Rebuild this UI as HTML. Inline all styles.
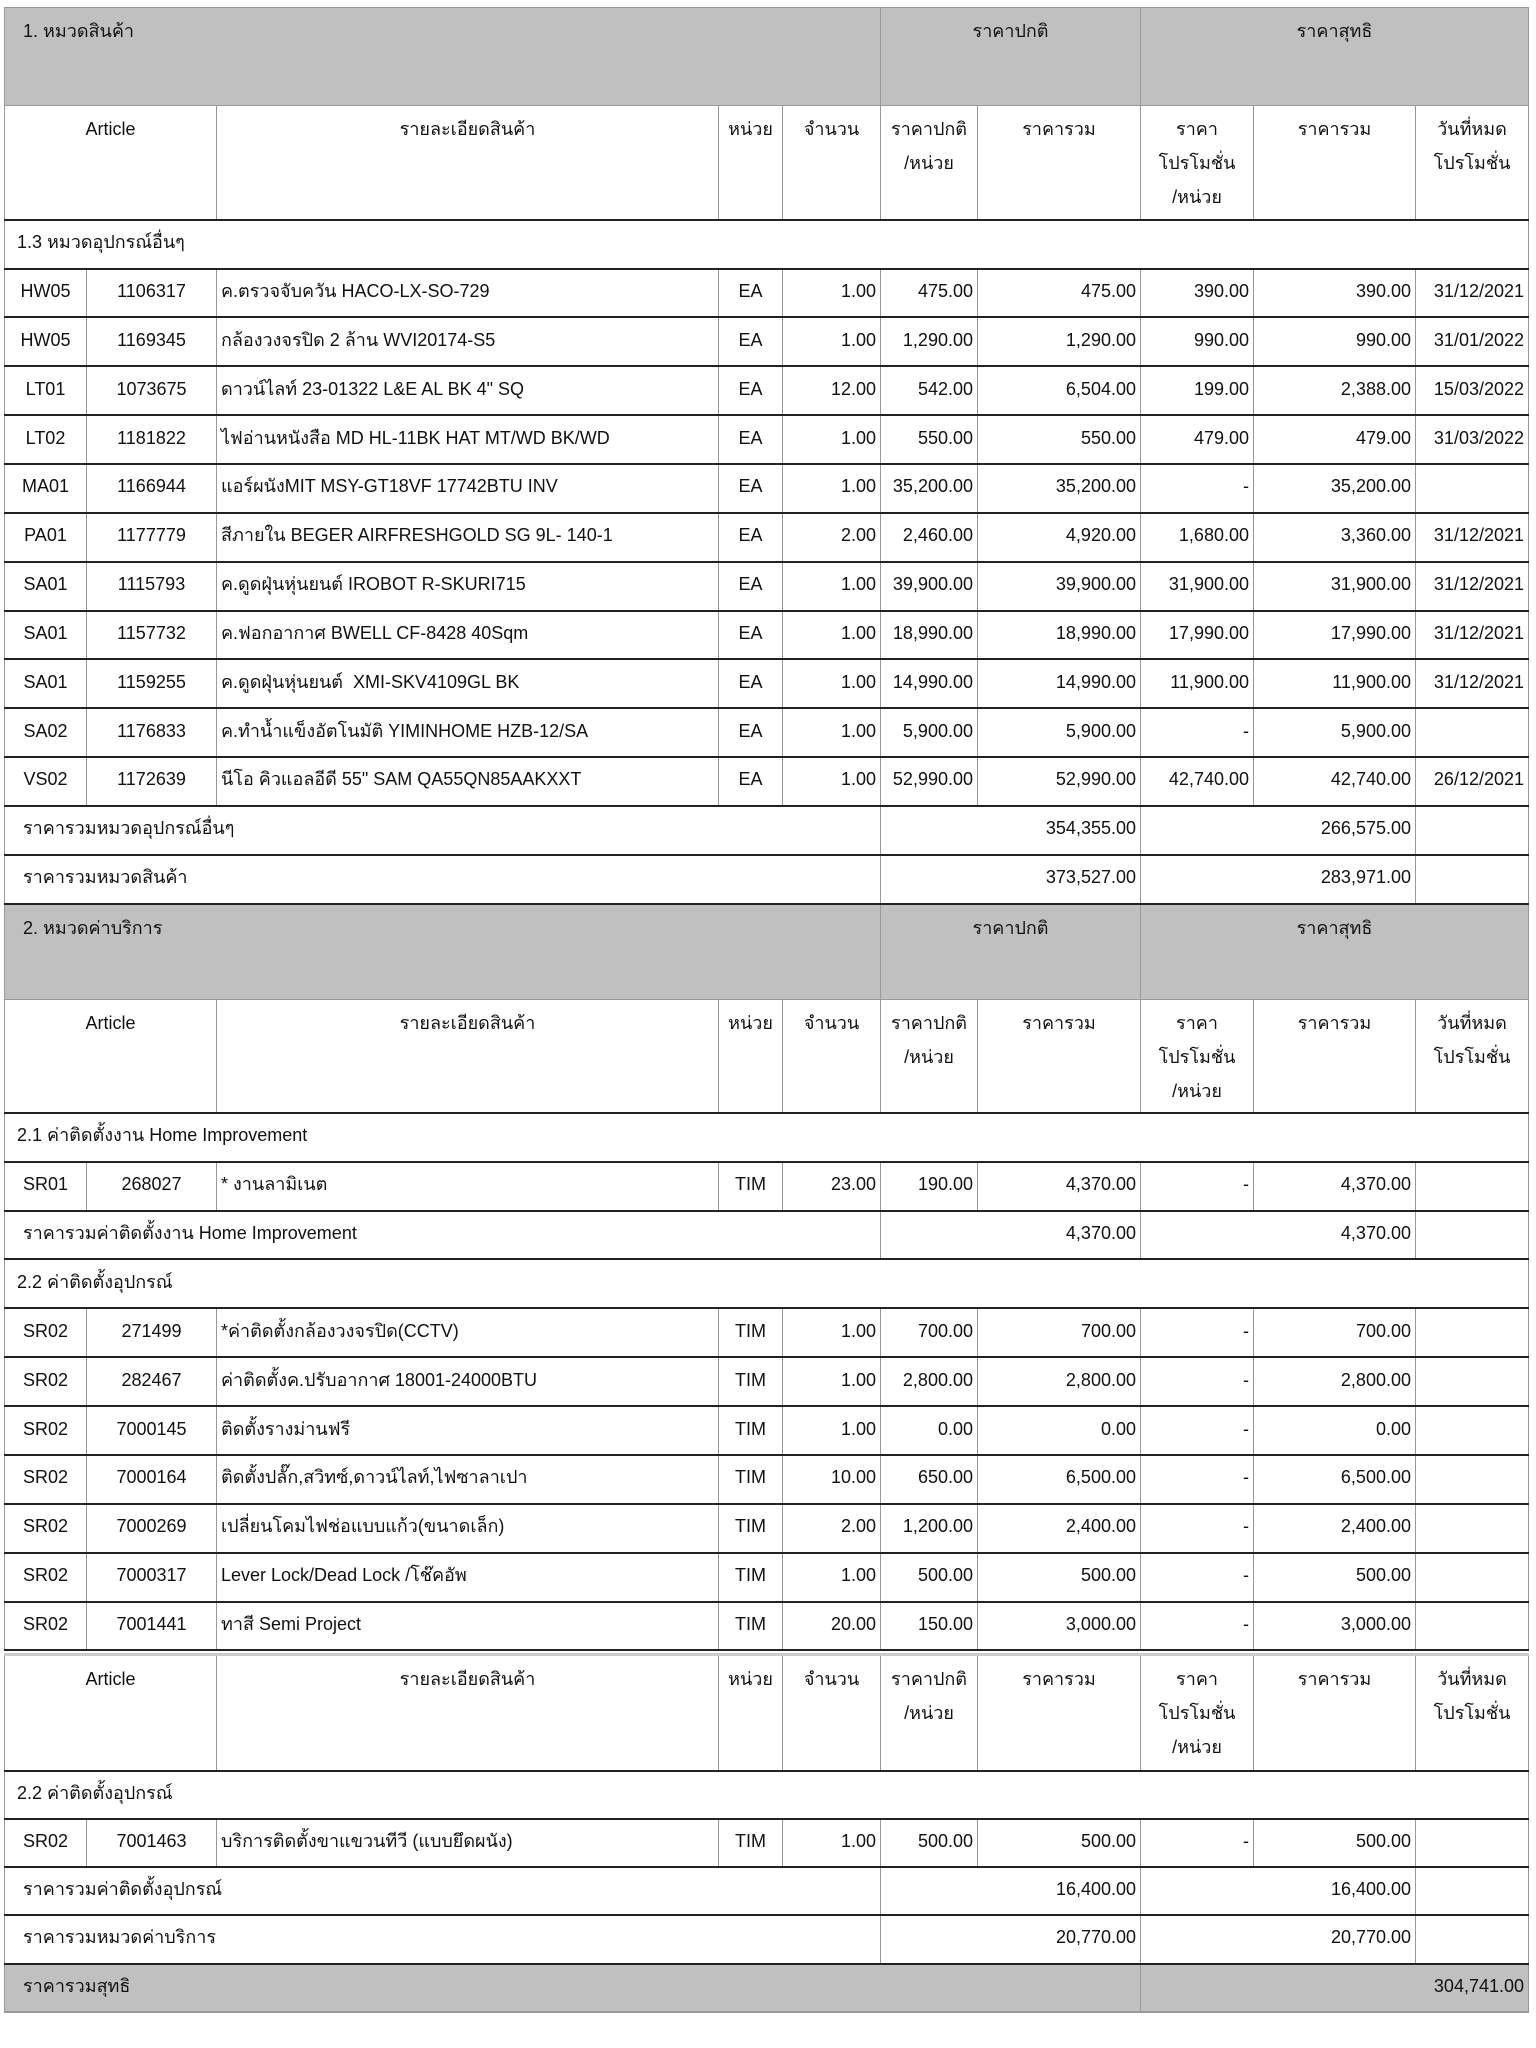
<!DOCTYPE html>
<html><head><meta charset="utf-8">
<style>
html,body{margin:0;padding:0;background:#fff;width:1536px;height:2048px;overflow:hidden}
body{font-family:"Liberation Sans","Noto Sans CJK SC",sans-serif;font-size:18px;color:#111}
table{position:absolute;left:4px;border-collapse:collapse;table-layout:fixed;width:1524px}
td{border-left:1px solid #999;border-right:1px solid #999;border-top:2px solid #222;border-bottom:2px solid #222;padding:0 4px;white-space:nowrap;overflow:hidden;line-height:34px}
.g td{background:#c0c0c0;vertical-align:top;padding-top:6px;border-top:1px solid #999;border-bottom:1px solid #999}
.h td{vertical-align:top;padding-top:6px;text-align:center;border-top:1px solid #999}
.c{text-align:center}.r{text-align:right}
.d td{height:42.2px;vertical-align:middle;padding-bottom:4px;line-height:30px}
.s td{height:42.5px;padding-left:12px;vertical-align:middle;padding-bottom:4px;line-height:30px}
.t1 .d td{height:42.85px}
.t1 .s td{height:43.1px}
.t td.l{padding-left:18px}
</style></head><body>
<table class="t1" style="top:7px">
<colgroup><col style="width:82px"><col style="width:130px"><col style="width:502px"><col style="width:64px"><col style="width:98px"><col style="width:97px"><col style="width:163px"><col style="width:113px"><col style="width:162px"><col style="width:113px"></colgroup>
<tr class="g" style="height:98px"><td colspan="5" style="padding-left:18px">1. หมวดสินค้า</td><td colspan="2" class="c">ราคาปกติ</td><td colspan="3" class="c">ราคาสุทธิ</td></tr>
<tr class="h" style="height:114px"><td colspan="2">Article</td><td>รายละเอียดสินค้า</td><td>หน่วย</td><td>จำนวน</td><td>ราคาปกติ<br>/หน่วย</td><td>ราคารวม</td><td>ราคา<br>โปรโมชั่น<br>/หน่วย</td><td>ราคารวม</td><td class="r">วันที่หมด<br>โปรโมชั่น</td></tr>
<tr class="s"><td colspan="10">1.3 หมวดอุปกรณ์อื่นๆ</td></tr>
<tr class="d"><td class="c">HW05</td><td class="c">1106317</td><td>ค.ตรวจจับควัน HACO-LX-SO-729</td><td class="c">EA</td><td class="r">1.00</td><td class="r">475.00</td><td class="r">475.00</td><td class="r">390.00</td><td class="r">390.00</td><td class="r">31/12/2021</td></tr>
<tr class="d"><td class="c">HW05</td><td class="c">1169345</td><td>กล้องวงจรปิด 2 ล้าน WVI20174-S5</td><td class="c">EA</td><td class="r">1.00</td><td class="r">1,290.00</td><td class="r">1,290.00</td><td class="r">990.00</td><td class="r">990.00</td><td class="r">31/01/2022</td></tr>
<tr class="d"><td class="c">LT01</td><td class="c">1073675</td><td>ดาวน์ไลท์ 23-01322 L&amp;E AL BK 4" SQ</td><td class="c">EA</td><td class="r">12.00</td><td class="r">542.00</td><td class="r">6,504.00</td><td class="r">199.00</td><td class="r">2,388.00</td><td class="r">15/03/2022</td></tr>
<tr class="d"><td class="c">LT02</td><td class="c">1181822</td><td>ไฟอ่านหนังสือ MD HL-11BK HAT MT/WD BK/WD</td><td class="c">EA</td><td class="r">1.00</td><td class="r">550.00</td><td class="r">550.00</td><td class="r">479.00</td><td class="r">479.00</td><td class="r">31/03/2022</td></tr>
<tr class="d"><td class="c">MA01</td><td class="c">1166944</td><td>แอร์ผนังMIT MSY-GT18VF 17742BTU INV</td><td class="c">EA</td><td class="r">1.00</td><td class="r">35,200.00</td><td class="r">35,200.00</td><td class="r">-</td><td class="r">35,200.00</td><td></td></tr>
<tr class="d"><td class="c">PA01</td><td class="c">1177779</td><td>สีภายใน BEGER AIRFRESHGOLD SG 9L- 140-1</td><td class="c">EA</td><td class="r">2.00</td><td class="r">2,460.00</td><td class="r">4,920.00</td><td class="r">1,680.00</td><td class="r">3,360.00</td><td class="r">31/12/2021</td></tr>
<tr class="d"><td class="c">SA01</td><td class="c">1115793</td><td>ค.ดูดฝุ่นหุ่นยนต์ IROBOT R-SKURI715</td><td class="c">EA</td><td class="r">1.00</td><td class="r">39,900.00</td><td class="r">39,900.00</td><td class="r">31,900.00</td><td class="r">31,900.00</td><td class="r">31/12/2021</td></tr>
<tr class="d"><td class="c">SA01</td><td class="c">1157732</td><td>ค.ฟอกอากาศ BWELL CF-8428 40Sqm</td><td class="c">EA</td><td class="r">1.00</td><td class="r">18,990.00</td><td class="r">18,990.00</td><td class="r">17,990.00</td><td class="r">17,990.00</td><td class="r">31/12/2021</td></tr>
<tr class="d"><td class="c">SA01</td><td class="c">1159255</td><td>ค.ดูดฝุ่นหุ่นยนต์ &nbsp;XMI-SKV4109GL BK</td><td class="c">EA</td><td class="r">1.00</td><td class="r">14,990.00</td><td class="r">14,990.00</td><td class="r">11,900.00</td><td class="r">11,900.00</td><td class="r">31/12/2021</td></tr>
<tr class="d"><td class="c">SA02</td><td class="c">1176833</td><td>ค.ทำน้ำแข็งอัตโนมัติ YIMINHOME HZB-12/SA</td><td class="c">EA</td><td class="r">1.00</td><td class="r">5,900.00</td><td class="r">5,900.00</td><td class="r">-</td><td class="r">5,900.00</td><td></td></tr>
<tr class="d"><td class="c">VS02</td><td class="c">1172639</td><td>นีโอ คิวแอลอีดี 55" SAM QA55QN85AAKXXT</td><td class="c">EA</td><td class="r">1.00</td><td class="r">52,990.00</td><td class="r">52,990.00</td><td class="r">42,740.00</td><td class="r">42,740.00</td><td class="r">26/12/2021</td></tr>
<tr class="d t"><td colspan="5" class="l">ราคารวมหมวดอุปกรณ์อื่นๆ</td><td colspan="2" class="r">354,355.00</td><td colspan="2" class="r">266,575.00</td><td></td></tr>
<tr class="d t"><td colspan="5" class="l">ราคารวมหมวดสินค้า</td><td colspan="2" class="r">373,527.00</td><td colspan="2" class="r">283,971.00</td><td></td></tr>
<tr class="g" style="height:96px"><td colspan="5" style="padding-left:18px">2. หมวดค่าบริการ</td><td colspan="2" class="c">ราคาปกติ</td><td colspan="3" class="c">ราคาสุทธิ</td></tr>
<tr class="h" style="height:113px"><td colspan="2">Article</td><td>รายละเอียดสินค้า</td><td>หน่วย</td><td>จำนวน</td><td>ราคาปกติ<br>/หน่วย</td><td>ราคารวม</td><td>ราคา<br>โปรโมชั่น<br>/หน่วย</td><td>ราคารวม</td><td class="r">วันที่หมด<br>โปรโมชั่น</td></tr>
<tr class="s"><td colspan="10">2.1 ค่าติดตั้งงาน Home Improvement</td></tr>
<tr class="d"><td class="c">SR01</td><td class="c">268027</td><td>* งานลามิเนต</td><td class="c">TIM</td><td class="r">23.00</td><td class="r">190.00</td><td class="r">4,370.00</td><td class="r">-</td><td class="r">4,370.00</td><td></td></tr>
<tr class="d t"><td colspan="5" class="l">ราคารวมค่าติดตั้งงาน Home Improvement</td><td colspan="2" class="r">4,370.00</td><td colspan="2" class="r">4,370.00</td><td></td></tr>
<tr class="s"><td colspan="10">2.2 ค่าติดตั้งอุปกรณ์</td></tr>
<tr class="d"><td class="c">SR02</td><td class="c">271499</td><td>*ค่าติดตั้งกล้องวงจรปิด(CCTV)</td><td class="c">TIM</td><td class="r">1.00</td><td class="r">700.00</td><td class="r">700.00</td><td class="r">-</td><td class="r">700.00</td><td></td></tr>
<tr class="d"><td class="c">SR02</td><td class="c">282467</td><td>ค่าติดตั้งค.ปรับอากาศ 18001-24000BTU</td><td class="c">TIM</td><td class="r">1.00</td><td class="r">2,800.00</td><td class="r">2,800.00</td><td class="r">-</td><td class="r">2,800.00</td><td></td></tr>
<tr class="d"><td class="c">SR02</td><td class="c">7000145</td><td>ติดตั้งรางม่านฟรี</td><td class="c">TIM</td><td class="r">1.00</td><td class="r">0.00</td><td class="r">0.00</td><td class="r">-</td><td class="r">0.00</td><td></td></tr>
<tr class="d"><td class="c">SR02</td><td class="c">7000164</td><td>ติดตั้งปลั๊ก,สวิทซ์,ดาวน์ไลท์,ไฟซาลาเปา</td><td class="c">TIM</td><td class="r">10.00</td><td class="r">650.00</td><td class="r">6,500.00</td><td class="r">-</td><td class="r">6,500.00</td><td></td></tr>
<tr class="d"><td class="c">SR02</td><td class="c">7000269</td><td>เปลี่ยนโคมไฟช่อแบบแก้ว(ขนาดเล็ก)</td><td class="c">TIM</td><td class="r">2.00</td><td class="r">1,200.00</td><td class="r">2,400.00</td><td class="r">-</td><td class="r">2,400.00</td><td></td></tr>
<tr class="d"><td class="c">SR02</td><td class="c">7000317</td><td>Lever Lock/Dead Lock /โช๊คอัพ</td><td class="c">TIM</td><td class="r">1.00</td><td class="r">500.00</td><td class="r">500.00</td><td class="r">-</td><td class="r">500.00</td><td></td></tr>
<tr class="d"><td class="c">SR02</td><td class="c">7001441</td><td>ทาสี Semi Project</td><td class="c">TIM</td><td class="r">20.00</td><td class="r">150.00</td><td class="r">3,000.00</td><td class="r">-</td><td class="r">3,000.00</td><td></td></tr>
</table>
<table style="top:1653px">
<colgroup><col style="width:82px"><col style="width:130px"><col style="width:502px"><col style="width:64px"><col style="width:98px"><col style="width:97px"><col style="width:163px"><col style="width:113px"><col style="width:162px"><col style="width:113px"></colgroup>
<tr class="h" style="height:116px"><td colspan="2" style="border-top:3px solid #ccc">Article</td><td style="border-top:3px solid #ccc">รายละเอียดสินค้า</td><td style="border-top:3px solid #ccc">หน่วย</td><td style="border-top:3px solid #ccc">จำนวน</td><td style="border-top:3px solid #ccc">ราคาปกติ<br>/หน่วย</td><td style="border-top:3px solid #ccc">ราคารวม</td><td style="border-top:3px solid #ccc">ราคา<br>โปรโมชั่น<br>/หน่วย</td><td style="border-top:3px solid #ccc">ราคารวม</td><td class="r" style="border-top:3px solid #ccc">วันที่หมด<br>โปรโมชั่น</td></tr>
<tr class="s"><td colspan="10">2.2 ค่าติดตั้งอุปกรณ์</td></tr>
<tr class="d"><td class="c">SR02</td><td class="c">7001463</td><td>บริการติดตั้งขาแขวนทีวี (แบบยึดผนัง)</td><td class="c">TIM</td><td class="r">1.00</td><td class="r">500.00</td><td class="r">500.00</td><td class="r">-</td><td class="r">500.00</td><td></td></tr>
<tr class="d t"><td colspan="5" class="l">ราคารวมค่าติดตั้งอุปกรณ์</td><td colspan="2" class="r">16,400.00</td><td colspan="2" class="r">16,400.00</td><td></td></tr>
<tr class="d t"><td colspan="5" class="l">ราคารวมหมวดค่าบริการ</td><td colspan="2" class="r">20,770.00</td><td colspan="2" class="r">20,770.00</td><td></td></tr>
<tr class="d t" style="background:#c0c0c0"><td colspan="7" class="l" style="border-bottom:2px solid #999">ราคารวมสุทธิ</td><td colspan="3" class="r" style="border-bottom:2px solid #999">304,741.00</td></tr>
</table>
</body></html>
